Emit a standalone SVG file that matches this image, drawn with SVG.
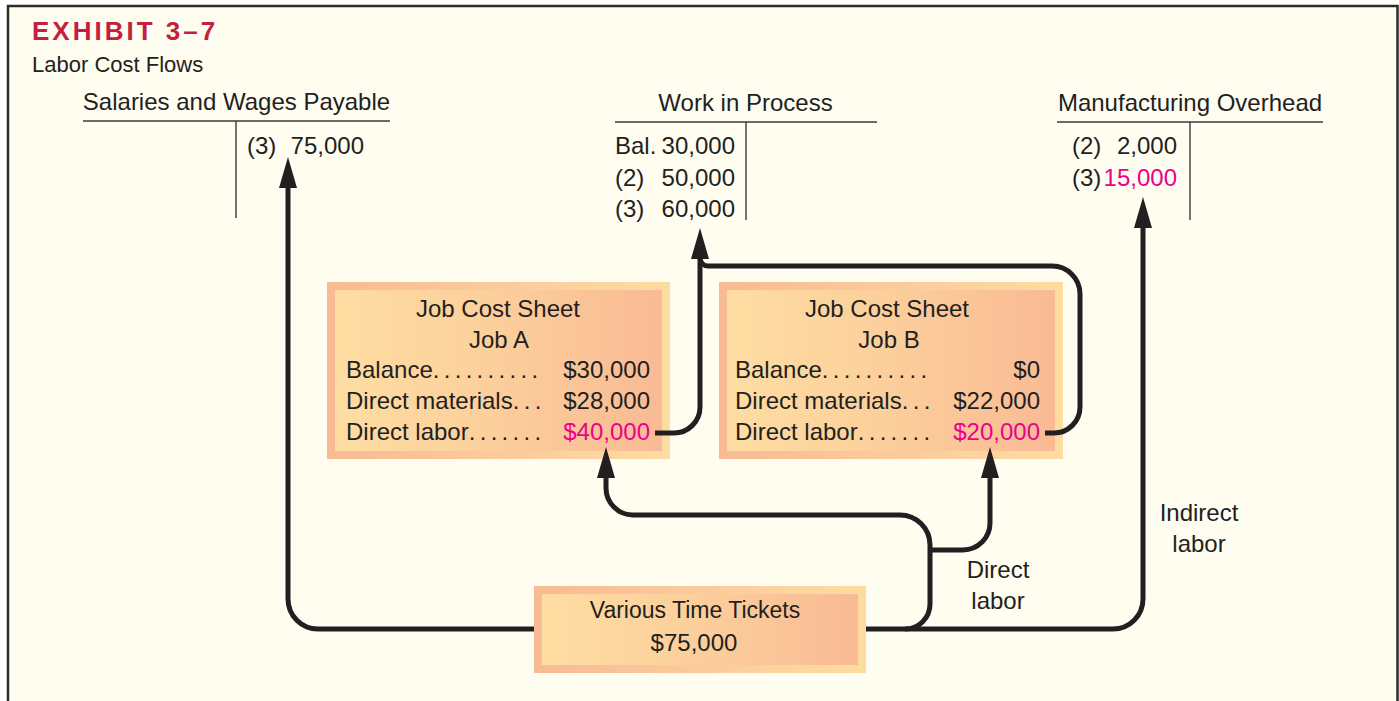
<svg xmlns="http://www.w3.org/2000/svg" width="1399" height="701" viewBox="0 0 1399 701">
<style>
text{font-family:"Liberation Sans",Arial,sans-serif;fill:#231F20;font-size:24px}
.c{text-anchor:middle}
.e{text-anchor:end}
.m{fill:#EC008C}
.t{stroke:#3A3A3A;stroke-width:1.4;fill:none}
.w{stroke:#231F20;stroke-width:5;fill:none;marker-end:url(#ah)}
.n{stroke:#231F20;stroke-width:5;fill:none}
.dots{letter-spacing:4.3px}
</style>
<defs>
<linearGradient id="gOut" x1="0" y1="0" x2="1" y2="0">
<stop offset="0" stop-color="#F8BA94"/>
<stop offset="1" stop-color="#FEDCA1"/>
</linearGradient>
<linearGradient id="gIn" x1="0" y1="0" x2="1" y2="0">
<stop offset="0" stop-color="#FEDDA2"/>
<stop offset="0.45" stop-color="#FCD09C"/>
<stop offset="1" stop-color="#F9BA94"/>
</linearGradient>
<marker id="ah" viewBox="0 0 31 18" refX="1" refY="9" markerWidth="31" markerHeight="18" markerUnits="userSpaceOnUse" orient="auto">
<path d="M0,0 L31,9 L0,18 z" fill="#231F20"/>
</marker>
</defs>
<rect x="0" y="0" width="1399" height="701" fill="#FFFFFF"/>
<rect x="8" y="6" width="1389.5" height="720" fill="#FFFCF0" stroke="#2B2B2B" stroke-width="2.5"/>

<g id="header">
<text x="32" y="40" style="font-weight:bold;font-size:26px;letter-spacing:3px;fill:#C41F3E">EXHIBIT 3–7</text>
<text x="32" y="72" style="font-size:22px">Labor Cost Flows</text>
</g>

<g id="salaries-wages-payable">
<text class="c" x="236.5" y="110">Salaries and Wages Payable</text>
<line class="t" x1="83" y1="121" x2="390" y2="121"/>
<line class="t" x1="236" y1="121" x2="236" y2="218"/>
<text x="247" y="154">(3)</text>
<text class="e" x="364" y="154">75,000</text>
</g>

<g id="work-in-process">
<text class="c" x="745.5" y="111">Work in Process</text>
<line class="t" x1="615" y1="122" x2="877" y2="122"/>
<line class="t" x1="746" y1="122" x2="746" y2="220"/>
<text x="615" y="154">Bal.</text>
<text class="e" x="735" y="154">30,000</text>
<text x="615" y="186">(2)</text>
<text class="e" x="735" y="186">50,000</text>
<text x="615" y="217">(3)</text>
<text class="e" x="735" y="217">60,000</text>
</g>

<g id="manufacturing-overhead">
<text class="c" x="1190" y="111">Manufacturing Overhead</text>
<line class="t" x1="1057" y1="122" x2="1323" y2="122"/>
<line class="t" x1="1190" y1="122" x2="1190" y2="220"/>
<text x="1072" y="154">(2)</text>
<text class="e" x="1177" y="154">2,000</text>
<text x="1072" y="186">(3)</text>
<text class="e m" x="1177" y="186">15,000</text>
</g>

<g id="job-a">
<rect x="327" y="282" width="343" height="177" fill="url(#gOut)"/>
<rect x="335" y="290" width="327" height="161" fill="url(#gIn)"/>
<text class="c" x="498" y="317">Job Cost Sheet</text>
<text class="c" x="499" y="348">Job A</text>
<text x="346" y="378">Balance<tspan class="dots">..........</tspan></text>
<text class="e" x="650" y="378">$30,000</text>
<text x="346" y="409">Direct materials<tspan class="dots">...</tspan></text>
<text class="e" x="650" y="409">$28,000</text>
<text x="346" y="440">Direct labor<tspan class="dots">.......</tspan></text>
<text class="e m" x="650" y="440">$40,000</text>
</g>

<g id="job-b">
<rect x="719" y="282" width="344" height="177" fill="url(#gOut)"/>
<rect x="727" y="290" width="328" height="161" fill="url(#gIn)"/>
<text class="c" x="887" y="317">Job Cost Sheet</text>
<text class="c" x="889" y="348">Job B</text>
<text x="735" y="378">Balance<tspan class="dots">..........</tspan></text>
<text class="e" x="1040" y="378">$0</text>
<text x="735" y="409">Direct materials<tspan class="dots">...</tspan></text>
<text class="e" x="1040" y="409">$22,000</text>
<text x="735" y="440">Direct labor<tspan class="dots">.......</tspan></text>
<text class="e m" x="1040" y="440">$20,000</text>
</g>

<g id="connectors">
<path class="w" d="M534,629 H318 A30,30 0 0 1 288,599 V187"/>
<path class="w" d="M866,629 H1113 A30,30 0 0 0 1143,599 V227"/>
<path class="w" d="M905,629 A25,25 0 0 0 930,604 V545 A30,30 0 0 0 900,515 H633 A27,27 0 0 1 606,488 V477"/>
<path class="w" d="M930,550 H963 A27,27 0 0 0 990,523 V477"/>
<path class="w" d="M655,433 H674 A26,26 0 0 0 700,407 V258"/>
<path class="n" d="M1045,433 H1054 A26,26 0 0 0 1080,407 V294 A28,28 0 0 0 1052,266 H708 A8,8 0 0 1 700,258"/>
</g>

<g id="time-tickets">
<rect x="534" y="586" width="332" height="87" fill="url(#gOut)"/>
<rect x="542" y="594" width="316" height="71" fill="url(#gIn)"/>
<text class="c" x="695" y="618" style="font-size:23px">Various Time Tickets</text>
<text class="c" x="694" y="651">$75,000</text>
</g>

<g id="labels">
<text class="c" x="998" y="578">Direct</text>
<text class="c" x="998" y="609">labor</text>
<text class="c" x="1199" y="521">Indirect</text>
<text class="c" x="1199" y="552">labor</text>
</g>
</svg>
